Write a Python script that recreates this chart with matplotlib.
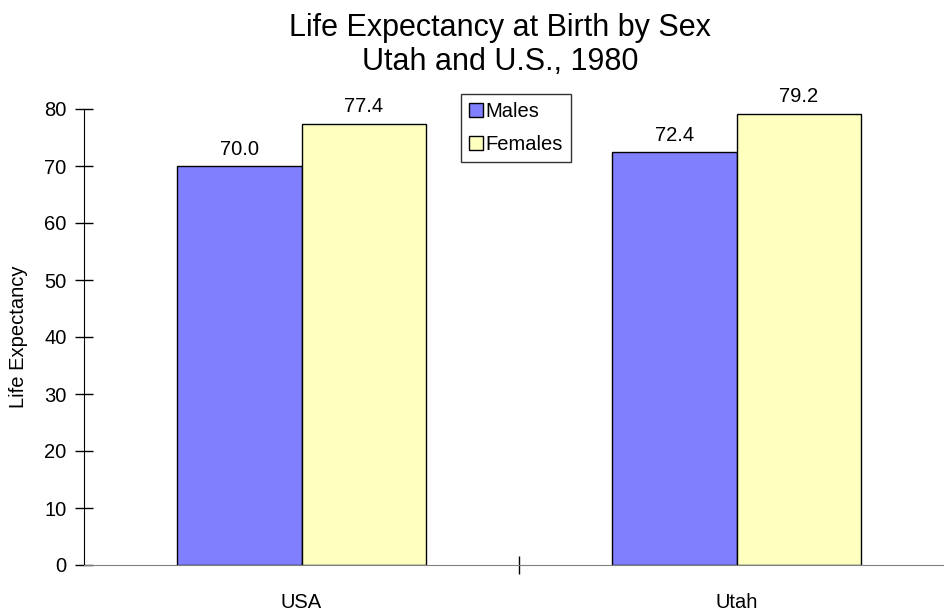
import matplotlib
matplotlib.use("Agg")
import matplotlib.pyplot as plt
import numpy as np
from matplotlib.patches import Patch

categories = ["USA", "Utah"]
males = [70.0, 72.4]
females = [77.4, 79.2]
series_names = ["Males", "Females"]
title_lines = ["Life Expectancy at Birth by Sex", "Utah and U.S., 1980"]
ylabel = "Life Expectancy"

plt.rcParams['font.family'] = ['Liberation Sans', 'DejaVu Sans']

W, H = 945, 611
fig = plt.figure(figsize=(W/100, H/100), dpi=100)
left, right, bottom, top = 84, 954, 565, 109
ax = fig.add_axes([left/W, (H-bottom)/H, (right-left)/W, (bottom-top)/H])

fs = 14.5
x = np.arange(len(categories))
bw = 1/3.5
c_m = "#8080FF"
c_f = "#FFFFC0"
b1 = ax.bar(x - bw/2, males, bw, color=c_m, edgecolor="black", linewidth=1.0)
b2 = ax.bar(x + bw/2, females, bw, color=c_f, edgecolor="black", linewidth=1.0)
for rects, vals in ((b1, males), (b2, females)):
    for r, v in zip(rects, vals):
        ax.text(r.get_x() + r.get_width()/2, v + 1.3, f"{v:.1f}", ha="center", va="bottom", fontsize=fs)

ax.set_xlim(-0.5, len(categories) - 0.5)
ax.set_ylim(0, 80)
ax.set_yticks(np.arange(0, 81, 10))
ax.tick_params(axis='y', direction='inout', length=13, width=1, labelsize=fs, pad=6)
ax.set_xticks(x)
ax.set_xticklabels(categories)
ax.tick_params(axis='x', length=0, labelsize=fs, pad=20)
ax.set_xticks(np.arange(0.5, len(categories) - 0.5, 1), minor=True)
ax.tick_params(axis='x', which='minor', direction='inout', length=13, width=1)

for s in ("top", "right"):
    ax.spines[s].set_visible(False)
ax.spines["bottom"].set_color("#808080")
ax.spines["left"].set_color("black")

ax.set_ylabel(ylabel, fontsize=fs, labelpad=12)

fig.text(500/W, 1 - 28/H, title_lines[0], ha="center", va="center", fontsize=22)
fig.text(500/W, 1 - 62/H, title_lines[1], ha="center", va="center", fontsize=22)

handles = [Patch(facecolor=c_m, edgecolor="black"), Patch(facecolor=c_f, edgecolor="black")]
leg = fig.legend(handles, series_names, loc="upper left", bbox_to_anchor=(461/W, 1 - 94/H),
                 fontsize=fs, frameon=True, fancybox=False, edgecolor="black",
                 handlelength=0.7, handleheight=0.7, handletextpad=0.1, borderpad=0.4,
                 labelspacing=0.7, borderaxespad=0)
leg.get_frame().set_linewidth(1.0)

fig.savefig("out.png", dpi=100)
